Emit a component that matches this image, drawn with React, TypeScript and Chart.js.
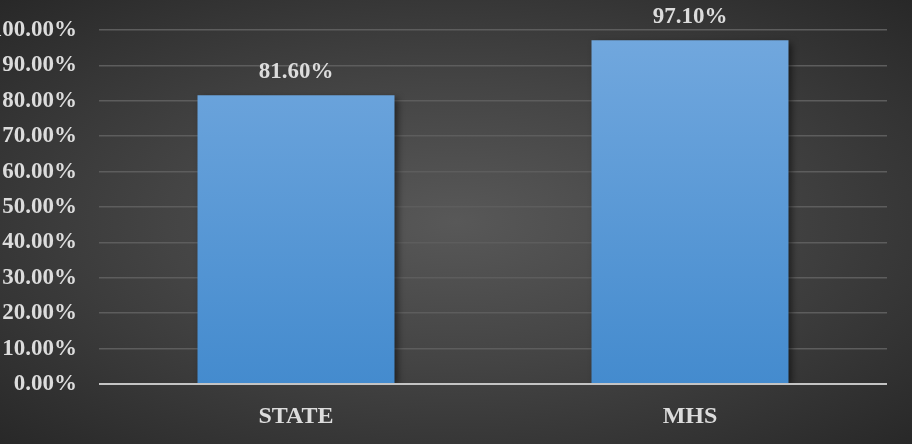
import React, { useEffect, useRef } from "react";
import { Chart, registerables } from "chart.js";

Chart.register(...registerables);

const categories = ["STATE", "MHS"];
const values = [81.6, 97.1];
const yMin = 0;
const yMax = 100;
const yStep = 10;

const FONT = '"Liberation Serif", serif';
const FSIZE = 23;
const XSIZE = 24;

export default function App() {
  const ref = useRef<HTMLCanvasElement | null>(null);

  useEffect(() => {
    document.body.style.margin = "0";
    const canvas = ref.current!;
    const shadowPlugin = {
      id: "shadow",
      beforeDatasetsDraw(chart: any) {
        const ctx = chart.ctx;
        ctx.save();
        ctx.shadowColor = "rgba(0,0,0,0.55)";
        ctx.shadowBlur = 7;
        ctx.shadowOffsetX = 3;
        ctx.shadowOffsetY = 3;
      },
      afterDatasetsDraw(chart: any) {
        const ctx = chart.ctx;
        ctx.restore();
        const area = chart.chartArea;
        const y0 = chart.scales.y.getPixelForValue(0);
        ctx.save();
        ctx.strokeStyle = "#c4c4c4";
        ctx.lineWidth = 2;
        ctx.beginPath();
        ctx.moveTo(area.left, y0);
        ctx.lineTo(area.right, y0);
        ctx.stroke();
        ctx.fillStyle = "#dcdcdc";
        ctx.font = "bold " + FSIZE + "px " + FONT;
        ctx.textAlign = "center";
        ctx.textBaseline = "middle";
        const meta = chart.getDatasetMeta(0);
        meta.data.forEach((bar: any, i: number) => {
          ctx.fillText(values[i].toFixed(2) + "%", bar.x, bar.y - 23);
        });
        ctx.restore();
      },
    };

    const chart = new Chart(canvas, {
      type: "bar",
      data: {
        labels: categories,
        datasets: [
          {
            data: values,
            backgroundColor: (c: any) => {
              const area = c.chart.chartArea;
              if (!area) return "#5b9bd5";
              const g = c.chart.ctx.createLinearGradient(0, area.top, 0, area.bottom);
              g.addColorStop(0, "#72a8de");
              g.addColorStop(1, "#448bce");
              return g;
            },
            borderWidth: 0,
            barPercentage: 0.5,
            categoryPercentage: 1,
          },
        ],
      },
      options: {
        responsive: false,
        animation: false,
        layout: { padding: { top: 30, right: 25, left: 0, bottom: 0 } },
        plugins: { legend: { display: false }, tooltip: { enabled: false } },
        scales: {
          x: {
            grid: { display: false, drawTicks: false },
            border: { display: false },
            ticks: {
              color: "#dcdcdc",
              font: { family: FONT, size: XSIZE, weight: "bold" },
              padding: 18,
            },
            afterFit(scale: any) {
              scale.height = 60;
              scale.paddingLeft = 0;
              scale.paddingRight = 0;
            },
          },
          y: {
            min: yMin,
            max: yMax,
            grid: { color: "#5d5d5d", lineWidth: 1.5, drawTicks: false },
            border: { display: false },
            ticks: {
              stepSize: yStep,
              color: "#dcdcdc",
              font: { family: FONT, size: FSIZE, weight: "bold" },
              padding: 22,
              callback: (v: any) => Number(v).toFixed(2) + "%",
            },
            afterFit(scale: any) {
              scale.width = 99;
              scale.paddingTop = 0;
              scale.paddingBottom = 0;
            },
          },
        },
      },
      plugins: [shadowPlugin],
    } as any);
    return () => chart.destroy();
  }, []);

  return (
    <div
      style={{
        position: "absolute",
        left: 0,
        top: 0,
        width: 912,
        height: 444,
        background:
          "radial-gradient(ellipse at 50% 50%, #585858 0%, #444444 45%, #282828 100%)",
      }}
    >
      <canvas ref={ref} width={912} height={444} style={{ display: "block" }} />
    </div>
  );
}
